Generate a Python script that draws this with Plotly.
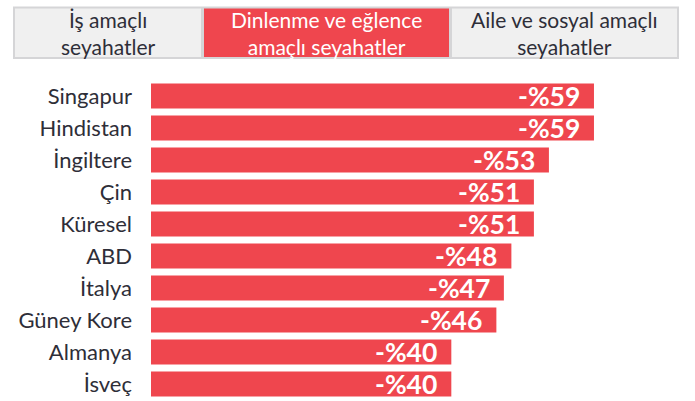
import plotly.graph_objects as go

countries = ["Singapur", "Hindistan", "İngiltere", "Çin", "Küresel", "ABD",
             "İtalya", "Güney Kore", "Almanya", "İsveç"]
values = [-59, -59, -53, -51, -51, -48, -47, -46, -40, -40]
labels = ["-%59", "-%59", "-%53", "-%51", "-%51", "-%48", "-%47", "-%46", "-%40", "-%40"]
tabs = ["İş amaçlı<br>seyahatler", "Dinlenme ve eğlence<br>amaçlı seyahatler",
        "Aile ve sosyal amaçlı<br>seyahatler"]
active_tab = 1

W, H = 695, 401
ML, MR, MT, MB = 151, 20, 80, 1
PW, PH = W - ML - MR, H - MT - MB
XMAX = PW / 7.508  # axis extent in value units

RED = "#EF464E"
DARK = "#2E2E38"


def px2x(px):
    return (px - ML) / PW


def px2y(py):
    return (H - MB - py) / PH


fig = go.Figure()
fig.add_trace(go.Bar(
    x=values, y=countries, orientation="h",
    marker=dict(color=RED, line=dict(width=0)),
    hoverinfo="skip",
))

for c, v, t in zip(countries, values, labels):
    fig.add_annotation(x=v, y=c, text="<b>" + t + "</b>", showarrow=False,
                       xanchor="right", yanchor="middle", xshift=-12, yshift=0,
                       font=dict(family="Lato", size=26.5, color="white"))

# tab buttons
tab_edges = [14, 202.5, 450.5, 678]
fig.add_shape(type="rect", xref="paper", yref="paper",
              x0=px2x(13), x1=px2x(679), y0=px2y(59), y1=px2y(6.5),
              fillcolor="#D5D5D7", line=dict(width=0), layer="above")
for i, name in enumerate(tabs):
    x0 = tab_edges[i] + (1.5 if i > 0 else 1)
    x1 = tab_edges[i + 1] - (1.5 if i < 2 else 1)
    fill = RED if i == active_tab else "#F0F0F0"
    fig.add_shape(type="rect", xref="paper", yref="paper",
                  x0=px2x(x0), x1=px2x(x1), y0=px2y(57), y1=px2y(8.5),
                  fillcolor=fill, line=dict(width=0), layer="above")
    fig.add_annotation(xref="paper", yref="paper",
                       x=px2x((x0 + x1) / 2), y=px2y(33), text=name,
                       showarrow=False, xanchor="center", yanchor="middle",
                       font=dict(family="Lato", size=21,
                                 color="white" if i == active_tab else DARK))

fig.update_layout(
    width=W, height=H,
    margin=dict(l=ML, r=MR, t=MT, b=MB, pad=0),
    paper_bgcolor="white", plot_bgcolor="white",
    bargap=7 / 32, showlegend=False,
    xaxis=dict(range=[0, -XMAX], visible=False, fixedrange=True),
    yaxis=dict(range=[9.5, -0.5], showgrid=False, zeroline=False, showline=False,
               ticks="", ticklabelstandoff=18, fixedrange=True,
               tickfont=dict(family="Lato", size=22, color=DARK)),
)

fig.write_html("out.html", config={"displayModeBar": False},
               post_script="document.body.style.margin='0';")
